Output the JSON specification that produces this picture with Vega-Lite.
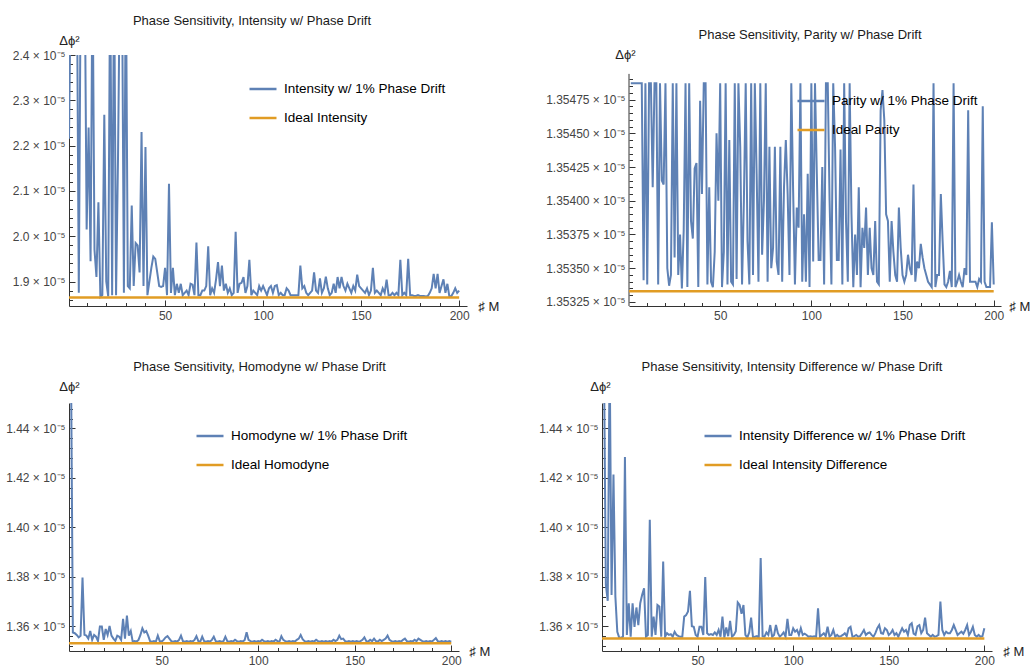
{
"$schema":"https://vega.github.io/schema/vega-lite/v6.json",
"padding":{"left":5,"top":15,"right":0,"bottom":0},
"background":"white",
"config":{"view":{"stroke":null},"font":"Liberation Sans",
 "title":{"font":"Liberation Sans","fontSize":13,"fontWeight":"normal","color":"#1a1a1a","anchor":"middle","frame":"group","offset":6},
 "axis":{"grid":false,"domainColor":"#333","tickColor":"#333","labelColor":"#444","labelFont":"Liberation Sans","labelFontSize":12,"titleFont":"Liberation Sans","titleFontWeight":"normal","titleColor":"#222","titleFontSize":13,"labelOverlap":false,"labelFlush":false,"labelPadding":10},
 "legend":{"labelFont":"Liberation Sans","labelFontSize":13.5,"labelColor":"#000","labelLimit":400,"symbolType":"stroke","symbolSize":729,"symbolStrokeWidth":2.5,"labelOffset":6,"rowPadding":7,"orient":"none","title":null}
},
"datasets":{
"p1":[{"M":1,"v":2.215},{"M":2,"v":2.6},{"M":3,"v":2.6},{"M":4,"v":2.6},{"M":5,"v":2.6},{"M":6,"v":1.875},{"M":7,"v":2.6},{"M":8,"v":2.6},{"M":9,"v":2.6},{"M":10,"v":2.015},{"M":11,"v":2.24},{"M":12,"v":1.945},{"M":13,"v":2.6},{"M":14,"v":1.97},{"M":15,"v":1.91},{"M":16,"v":2.075},{"M":17,"v":1.866},{"M":18,"v":1.87},{"M":19,"v":2.268},{"M":20,"v":1.9},{"M":21,"v":1.867},{"M":22,"v":2.6},{"M":23,"v":1.87},{"M":24,"v":2.6},{"M":25,"v":1.87},{"M":26,"v":2.173},{"M":27,"v":2.6},{"M":28,"v":2.6},{"M":29,"v":1.875},{"M":30,"v":2.6},{"M":31,"v":1.89},{"M":32,"v":1.885},{"M":33,"v":2.068},{"M":34,"v":1.89},{"M":35,"v":1.985},{"M":36,"v":1.98},{"M":37,"v":1.92},{"M":38,"v":2.23},{"M":39,"v":1.89},{"M":40,"v":2.197},{"M":41,"v":1.87},{"M":42,"v":1.9},{"M":43,"v":1.93},{"M":44,"v":1.955},{"M":45,"v":1.95},{"M":46,"v":1.92},{"M":47,"v":1.89},{"M":48,"v":1.888},{"M":49,"v":1.89},{"M":50,"v":1.93},{"M":51,"v":1.87},{"M":52,"v":2.116},{"M":53,"v":1.875},{"M":54,"v":1.93},{"M":55,"v":1.87},{"M":56,"v":1.895},{"M":57,"v":1.875},{"M":58,"v":1.895},{"M":59,"v":1.87},{"M":60,"v":1.875},{"M":61,"v":1.88},{"M":62,"v":1.87},{"M":63,"v":1.895},{"M":64,"v":1.893},{"M":65,"v":1.87},{"M":66,"v":1.986},{"M":67,"v":1.87},{"M":68,"v":1.87},{"M":69,"v":1.88},{"M":70,"v":1.88},{"M":71,"v":1.89},{"M":72,"v":1.978},{"M":73,"v":1.87},{"M":74,"v":1.885},{"M":75,"v":1.875},{"M":76,"v":1.905},{"M":77,"v":1.943},{"M":78,"v":1.89},{"M":79,"v":1.935},{"M":80,"v":1.88},{"M":81,"v":1.895},{"M":82,"v":1.875},{"M":83,"v":1.885},{"M":84,"v":1.87},{"M":85,"v":1.875},{"M":86,"v":2.01},{"M":87,"v":1.875},{"M":88,"v":1.895},{"M":89,"v":1.897},{"M":90,"v":1.91},{"M":91,"v":1.875},{"M":92,"v":1.89},{"M":93,"v":1.948},{"M":94,"v":1.87},{"M":95,"v":1.88},{"M":96,"v":1.875},{"M":97,"v":1.87},{"M":98,"v":1.89},{"M":99,"v":1.88},{"M":100,"v":1.89},{"M":101,"v":1.88},{"M":102,"v":1.87},{"M":103,"v":1.885},{"M":104,"v":1.89},{"M":105,"v":1.875},{"M":106,"v":1.89},{"M":107,"v":1.892},{"M":108,"v":1.87},{"M":109,"v":1.875},{"M":110,"v":1.87},{"M":111,"v":1.87},{"M":112,"v":1.885},{"M":113,"v":1.88},{"M":114,"v":1.87},{"M":115,"v":1.87},{"M":116,"v":1.87},{"M":117,"v":1.87},{"M":118,"v":1.87},{"M":119,"v":1.935},{"M":120,"v":1.885},{"M":121,"v":1.89},{"M":122,"v":1.875},{"M":123,"v":1.87},{"M":124,"v":1.875},{"M":125,"v":1.88},{"M":126,"v":1.92},{"M":127,"v":1.88},{"M":128,"v":1.875},{"M":129,"v":1.907},{"M":130,"v":1.875},{"M":131,"v":1.885},{"M":132,"v":1.911},{"M":133,"v":1.885},{"M":134,"v":1.87},{"M":135,"v":1.875},{"M":136,"v":1.895},{"M":137,"v":1.875},{"M":138,"v":1.91},{"M":139,"v":1.885},{"M":140,"v":1.91},{"M":141,"v":1.89},{"M":142,"v":1.88},{"M":143,"v":1.895},{"M":144,"v":1.885},{"M":145,"v":1.875},{"M":146,"v":1.89},{"M":147,"v":1.88},{"M":148,"v":1.915},{"M":149,"v":1.89},{"M":150,"v":1.885},{"M":151,"v":1.88},{"M":152,"v":1.875},{"M":153,"v":1.885},{"M":154,"v":1.87},{"M":155,"v":1.88},{"M":156,"v":1.93},{"M":157,"v":1.875},{"M":158,"v":1.88},{"M":159,"v":1.875},{"M":160,"v":1.87},{"M":161,"v":1.885},{"M":162,"v":1.875},{"M":163,"v":1.904},{"M":164,"v":1.87},{"M":165,"v":1.87},{"M":166,"v":1.875},{"M":167,"v":1.87},{"M":168,"v":1.875},{"M":169,"v":1.87},{"M":170,"v":1.948},{"M":171,"v":1.87},{"M":172,"v":1.875},{"M":173,"v":1.87},{"M":174,"v":1.95},{"M":175,"v":1.87},{"M":176,"v":1.87},{"M":177,"v":1.868},{"M":178,"v":1.868},{"M":179,"v":1.87},{"M":180,"v":1.868},{"M":181,"v":1.868},{"M":182,"v":1.868},{"M":183,"v":1.867},{"M":184,"v":1.868},{"M":185,"v":1.875},{"M":186,"v":1.885},{"M":187,"v":1.917},{"M":188,"v":1.885},{"M":189,"v":1.917},{"M":190,"v":1.875},{"M":191,"v":1.89},{"M":192,"v":1.905},{"M":193,"v":1.875},{"M":194,"v":1.895},{"M":195,"v":1.867},{"M":196,"v":1.868},{"M":197,"v":1.875},{"M":198,"v":1.885},{"M":199,"v":1.875},{"M":200,"v":1.88}],
"p2":[{"M":1,"v":1.35487},{"M":2,"v":1.35487},{"M":3,"v":1.35487},{"M":4,"v":1.35487},{"M":5,"v":1.35487},{"M":6,"v":1.35487},{"M":7,"v":1.35487},{"M":8,"v":1.35341},{"M":9,"v":1.35487},{"M":10,"v":1.35338},{"M":11,"v":1.35487},{"M":12,"v":1.35487},{"M":13,"v":1.3541},{"M":14,"v":1.35487},{"M":15,"v":1.35487},{"M":16,"v":1.35338},{"M":17,"v":1.35487},{"M":18,"v":1.35415},{"M":19,"v":1.35412},{"M":20,"v":1.35487},{"M":21,"v":1.3535},{"M":22,"v":1.35337},{"M":23,"v":1.35345},{"M":24,"v":1.35487},{"M":25,"v":1.35358},{"M":26,"v":1.35487},{"M":27,"v":1.35345},{"M":28,"v":1.35375},{"M":29,"v":1.35335},{"M":30,"v":1.35378},{"M":31,"v":1.35487},{"M":32,"v":1.35336},{"M":33,"v":1.35487},{"M":34,"v":1.35385},{"M":35,"v":1.35372},{"M":36,"v":1.35424},{"M":37,"v":1.35428},{"M":38,"v":1.35336},{"M":39,"v":1.35474},{"M":40,"v":1.35405},{"M":41,"v":1.35487},{"M":42,"v":1.35487},{"M":43,"v":1.35338},{"M":44,"v":1.3541},{"M":45,"v":1.3534},{"M":46,"v":1.35336},{"M":47,"v":1.35362},{"M":48,"v":1.3545},{"M":49,"v":1.354},{"M":50,"v":1.35487},{"M":51,"v":1.35336},{"M":52,"v":1.35362},{"M":53,"v":1.35487},{"M":54,"v":1.35338},{"M":55,"v":1.35445},{"M":56,"v":1.3534},{"M":57,"v":1.35338},{"M":58,"v":1.35487},{"M":59,"v":1.35342},{"M":60,"v":1.35487},{"M":61,"v":1.3544},{"M":62,"v":1.35338},{"M":63,"v":1.354},{"M":64,"v":1.35487},{"M":65,"v":1.3537},{"M":66,"v":1.35338},{"M":67,"v":1.35487},{"M":68,"v":1.35345},{"M":69,"v":1.35487},{"M":70,"v":1.3542},{"M":71,"v":1.3534},{"M":72,"v":1.35487},{"M":73,"v":1.3536},{"M":74,"v":1.354},{"M":75,"v":1.35487},{"M":76,"v":1.3534},{"M":77,"v":1.3544},{"M":78,"v":1.3535},{"M":79,"v":1.35365},{"M":80,"v":1.3544},{"M":81,"v":1.35355},{"M":82,"v":1.35345},{"M":83,"v":1.3544},{"M":84,"v":1.3534},{"M":85,"v":1.3541},{"M":86,"v":1.35445},{"M":87,"v":1.35405},{"M":88,"v":1.35345},{"M":89,"v":1.35487},{"M":90,"v":1.35408},{"M":91,"v":1.35338},{"M":92,"v":1.35395},{"M":93,"v":1.3538},{"M":94,"v":1.35487},{"M":95,"v":1.3534},{"M":96,"v":1.3539},{"M":97,"v":1.3534},{"M":98,"v":1.3542},{"M":99,"v":1.35336},{"M":100,"v":1.35487},{"M":101,"v":1.35355},{"M":102,"v":1.35487},{"M":103,"v":1.3542},{"M":104,"v":1.35356},{"M":105,"v":1.35356},{"M":106,"v":1.35425},{"M":107,"v":1.35338},{"M":108,"v":1.35487},{"M":109,"v":1.35487},{"M":110,"v":1.354},{"M":111,"v":1.35338},{"M":112,"v":1.35487},{"M":113,"v":1.3544},{"M":114,"v":1.35356},{"M":115,"v":1.35356},{"M":116,"v":1.35438},{"M":117,"v":1.35338},{"M":118,"v":1.35487},{"M":119,"v":1.35385},{"M":120,"v":1.3534},{"M":121,"v":1.35487},{"M":122,"v":1.3539},{"M":123,"v":1.35336},{"M":124,"v":1.35375},{"M":125,"v":1.35345},{"M":126,"v":1.3541},{"M":127,"v":1.35336},{"M":128,"v":1.3538},{"M":129,"v":1.35365},{"M":130,"v":1.35395},{"M":131,"v":1.35345},{"M":132,"v":1.3538},{"M":133,"v":1.3535},{"M":134,"v":1.35345},{"M":135,"v":1.35385},{"M":136,"v":1.3534},{"M":137,"v":1.35338},{"M":138,"v":1.35467},{"M":139,"v":1.35482},{"M":140,"v":1.3546},{"M":141,"v":1.3539},{"M":142,"v":1.35385},{"M":143,"v":1.3534},{"M":144,"v":1.35385},{"M":145,"v":1.35362},{"M":146,"v":1.35345},{"M":147,"v":1.3534},{"M":148,"v":1.35395},{"M":149,"v":1.35365},{"M":150,"v":1.35345},{"M":151,"v":1.3534},{"M":152,"v":1.35345},{"M":153,"v":1.3536},{"M":154,"v":1.3535},{"M":155,"v":1.35345},{"M":156,"v":1.35412},{"M":157,"v":1.3534},{"M":158,"v":1.35355},{"M":159,"v":1.3535},{"M":160,"v":1.35368},{"M":161,"v":1.35358},{"M":162,"v":1.3535},{"M":163,"v":1.35345},{"M":164,"v":1.3534},{"M":165,"v":1.35338},{"M":166,"v":1.35336},{"M":167,"v":1.35487},{"M":168,"v":1.35336},{"M":169,"v":1.35345},{"M":170,"v":1.35345},{"M":171,"v":1.35405},{"M":172,"v":1.3537},{"M":173,"v":1.35338},{"M":174,"v":1.35336},{"M":175,"v":1.3534},{"M":176,"v":1.35348},{"M":177,"v":1.35336},{"M":178,"v":1.35487},{"M":179,"v":1.35336},{"M":180,"v":1.3534},{"M":181,"v":1.35345},{"M":182,"v":1.3534},{"M":183,"v":1.35336},{"M":184,"v":1.3535},{"M":185,"v":1.35345},{"M":186,"v":1.35467},{"M":187,"v":1.3534},{"M":188,"v":1.3534},{"M":189,"v":1.3534},{"M":190,"v":1.3534},{"M":191,"v":1.35336},{"M":192,"v":1.35342},{"M":193,"v":1.3534},{"M":194,"v":1.3547},{"M":195,"v":1.3534},{"M":196,"v":1.35336},{"M":197,"v":1.35336},{"M":198,"v":1.35336},{"M":199,"v":1.35384},{"M":200,"v":1.35338}],
"p3":[{"M":2,"v":1.47},{"M":3,"v":1.47},{"M":4,"v":1.3575},{"M":5,"v":1.3572},{"M":6,"v":1.3565},{"M":7,"v":1.3555},{"M":8,"v":1.3562},{"M":9,"v":1.3797},{"M":10,"v":1.3565},{"M":11,"v":1.3562},{"M":12,"v":1.355},{"M":13,"v":1.3581},{"M":14,"v":1.3545},{"M":15,"v":1.3565},{"M":16,"v":1.3558},{"M":17,"v":1.354},{"M":18,"v":1.3599},{"M":19,"v":1.3599},{"M":20,"v":1.3545},{"M":21,"v":1.3589},{"M":22,"v":1.3565},{"M":23,"v":1.3601},{"M":24,"v":1.3562},{"M":25,"v":1.355},{"M":26,"v":1.3541},{"M":27,"v":1.3562},{"M":28,"v":1.3558},{"M":29,"v":1.3545},{"M":30,"v":1.363},{"M":31,"v":1.355},{"M":32,"v":1.3643},{"M":33,"v":1.3562},{"M":34,"v":1.3581},{"M":35,"v":1.3538},{"M":36,"v":1.354},{"M":37,"v":1.3538},{"M":38,"v":1.3545},{"M":39,"v":1.3565},{"M":40,"v":1.3592},{"M":41,"v":1.3575},{"M":42,"v":1.3581},{"M":43,"v":1.3562},{"M":44,"v":1.354},{"M":45,"v":1.3538},{"M":46,"v":1.354},{"M":47,"v":1.3538},{"M":48,"v":1.3562},{"M":49,"v":1.354},{"M":50,"v":1.3538},{"M":51,"v":1.3545},{"M":52,"v":1.3555},{"M":53,"v":1.356},{"M":54,"v":1.355},{"M":55,"v":1.354},{"M":56,"v":1.3538},{"M":57,"v":1.354},{"M":58,"v":1.3538},{"M":59,"v":1.3545},{"M":60,"v":1.3562},{"M":61,"v":1.354},{"M":62,"v":1.3538},{"M":63,"v":1.354},{"M":64,"v":1.3538},{"M":65,"v":1.354},{"M":66,"v":1.3538},{"M":67,"v":1.3545},{"M":68,"v":1.356},{"M":69,"v":1.354},{"M":70,"v":1.3538},{"M":71,"v":1.3558},{"M":72,"v":1.354},{"M":73,"v":1.3538},{"M":74,"v":1.354},{"M":75,"v":1.3538},{"M":76,"v":1.3545},{"M":77,"v":1.3558},{"M":78,"v":1.354},{"M":79,"v":1.3538},{"M":80,"v":1.354},{"M":81,"v":1.3538},{"M":82,"v":1.354},{"M":83,"v":1.3558},{"M":84,"v":1.354},{"M":85,"v":1.3538},{"M":86,"v":1.354},{"M":87,"v":1.3538},{"M":88,"v":1.3545},{"M":89,"v":1.354},{"M":90,"v":1.3538},{"M":91,"v":1.354},{"M":92,"v":1.3538},{"M":93,"v":1.3545},{"M":94,"v":1.3576},{"M":95,"v":1.3545},{"M":96,"v":1.354},{"M":97,"v":1.3538},{"M":98,"v":1.354},{"M":99,"v":1.3538},{"M":100,"v":1.354},{"M":101,"v":1.3538},{"M":102,"v":1.3545},{"M":103,"v":1.354},{"M":104,"v":1.3538},{"M":105,"v":1.354},{"M":106,"v":1.3538},{"M":107,"v":1.354},{"M":108,"v":1.3538},{"M":109,"v":1.3545},{"M":110,"v":1.354},{"M":111,"v":1.3538},{"M":112,"v":1.356},{"M":113,"v":1.3545},{"M":114,"v":1.354},{"M":115,"v":1.3538},{"M":116,"v":1.354},{"M":117,"v":1.3538},{"M":118,"v":1.354},{"M":119,"v":1.3538},{"M":120,"v":1.3545},{"M":121,"v":1.355},{"M":122,"v":1.3565},{"M":123,"v":1.3548},{"M":124,"v":1.354},{"M":125,"v":1.3538},{"M":126,"v":1.354},{"M":127,"v":1.3538},{"M":128,"v":1.354},{"M":129,"v":1.3538},{"M":130,"v":1.3545},{"M":131,"v":1.354},{"M":132,"v":1.3538},{"M":133,"v":1.354},{"M":134,"v":1.3538},{"M":135,"v":1.354},{"M":136,"v":1.3538},{"M":137,"v":1.354},{"M":138,"v":1.3538},{"M":139,"v":1.3545},{"M":140,"v":1.354},{"M":141,"v":1.3545},{"M":142,"v":1.3562},{"M":143,"v":1.3548},{"M":144,"v":1.355},{"M":145,"v":1.354},{"M":146,"v":1.3538},{"M":147,"v":1.354},{"M":148,"v":1.3538},{"M":149,"v":1.354},{"M":150,"v":1.3538},{"M":151,"v":1.354},{"M":152,"v":1.3538},{"M":153,"v":1.354},{"M":154,"v":1.3545},{"M":155,"v":1.3555},{"M":156,"v":1.354},{"M":157,"v":1.3538},{"M":158,"v":1.3545},{"M":159,"v":1.354},{"M":160,"v":1.355},{"M":161,"v":1.354},{"M":162,"v":1.3538},{"M":163,"v":1.3545},{"M":164,"v":1.354},{"M":165,"v":1.3545},{"M":166,"v":1.355},{"M":167,"v":1.3562},{"M":168,"v":1.3545},{"M":169,"v":1.354},{"M":170,"v":1.3538},{"M":171,"v":1.354},{"M":172,"v":1.3538},{"M":173,"v":1.354},{"M":174,"v":1.3538},{"M":175,"v":1.3545},{"M":176,"v":1.355},{"M":177,"v":1.354},{"M":178,"v":1.3538},{"M":179,"v":1.354},{"M":180,"v":1.3538},{"M":181,"v":1.3545},{"M":182,"v":1.354},{"M":183,"v":1.355},{"M":184,"v":1.3545},{"M":185,"v":1.354},{"M":186,"v":1.3538},{"M":187,"v":1.354},{"M":188,"v":1.3538},{"M":189,"v":1.354},{"M":190,"v":1.3538},{"M":191,"v":1.3545},{"M":192,"v":1.3552},{"M":193,"v":1.354},{"M":194,"v":1.3538},{"M":195,"v":1.354},{"M":196,"v":1.3538},{"M":197,"v":1.354},{"M":198,"v":1.3538},{"M":199,"v":1.354},{"M":200,"v":1.3538}],
"p4":[{"M":1,"v":1.47},{"M":2,"v":1.3768},{"M":3,"v":1.3703},{"M":4,"v":1.47},{"M":5,"v":1.3727},{"M":6,"v":1.4214},{"M":7,"v":1.372},{"M":8,"v":1.3578},{"M":9,"v":1.3554},{"M":10,"v":1.3554},{"M":11,"v":1.3558},{"M":12,"v":1.4285},{"M":13,"v":1.3565},{"M":14,"v":1.3693},{"M":15,"v":1.3558},{"M":16,"v":1.3693},{"M":17,"v":1.3597},{"M":18,"v":1.3676},{"M":19,"v":1.3605},{"M":20,"v":1.3693},{"M":21,"v":1.3727},{"M":22,"v":1.3754},{"M":23,"v":1.3558},{"M":24,"v":1.3565},{"M":25,"v":1.4031},{"M":26,"v":1.3558},{"M":27,"v":1.3639},{"M":28,"v":1.3565},{"M":29,"v":1.3686},{"M":30,"v":1.368},{"M":31,"v":1.3558},{"M":32,"v":1.3862},{"M":33,"v":1.3558},{"M":34,"v":1.3572},{"M":35,"v":1.3565},{"M":36,"v":1.3568},{"M":37,"v":1.3558},{"M":38,"v":1.3578},{"M":39,"v":1.3565},{"M":40,"v":1.356},{"M":41,"v":1.3558},{"M":42,"v":1.3558},{"M":43,"v":1.3639},{"M":44,"v":1.3645},{"M":45,"v":1.366},{"M":46,"v":1.3743},{"M":47,"v":1.36},{"M":48,"v":1.3598},{"M":49,"v":1.3565},{"M":50,"v":1.3558},{"M":51,"v":1.3598},{"M":52,"v":1.3598},{"M":53,"v":1.3565},{"M":54,"v":1.3799},{"M":55,"v":1.3572},{"M":56,"v":1.3565},{"M":57,"v":1.3568},{"M":58,"v":1.3565},{"M":59,"v":1.3575},{"M":60,"v":1.3565},{"M":61,"v":1.3585},{"M":62,"v":1.3558},{"M":63,"v":1.3639},{"M":64,"v":1.3554},{"M":65,"v":1.3595},{"M":66,"v":1.356},{"M":67,"v":1.3622},{"M":68,"v":1.3558},{"M":69,"v":1.3565},{"M":70,"v":1.358},{"M":71,"v":1.3696},{"M":72,"v":1.3686},{"M":73,"v":1.365},{"M":74,"v":1.3686},{"M":75,"v":1.3565},{"M":76,"v":1.3554},{"M":77,"v":1.3575},{"M":78,"v":1.3635},{"M":79,"v":1.3554},{"M":80,"v":1.3558},{"M":81,"v":1.356},{"M":82,"v":1.3554},{"M":83,"v":1.3876},{"M":84,"v":1.356},{"M":85,"v":1.3558},{"M":86,"v":1.3575},{"M":87,"v":1.3565},{"M":88,"v":1.3605},{"M":89,"v":1.3558},{"M":90,"v":1.3565},{"M":91,"v":1.3605},{"M":92,"v":1.3572},{"M":93,"v":1.3558},{"M":94,"v":1.3565},{"M":95,"v":1.3575},{"M":96,"v":1.3558},{"M":97,"v":1.363},{"M":98,"v":1.3565},{"M":99,"v":1.3565},{"M":100,"v":1.3592},{"M":101,"v":1.3578},{"M":102,"v":1.3585},{"M":103,"v":1.3565},{"M":104,"v":1.3592},{"M":105,"v":1.3565},{"M":106,"v":1.357},{"M":107,"v":1.3565},{"M":108,"v":1.3558},{"M":109,"v":1.356},{"M":110,"v":1.3558},{"M":111,"v":1.356},{"M":112,"v":1.3558},{"M":113,"v":1.3673},{"M":114,"v":1.3558},{"M":115,"v":1.3565},{"M":116,"v":1.3572},{"M":117,"v":1.356},{"M":118,"v":1.3598},{"M":119,"v":1.3558},{"M":120,"v":1.3565},{"M":121,"v":1.3585},{"M":122,"v":1.3558},{"M":123,"v":1.3565},{"M":124,"v":1.3558},{"M":125,"v":1.356},{"M":126,"v":1.3565},{"M":127,"v":1.3572},{"M":128,"v":1.356},{"M":129,"v":1.3592},{"M":130,"v":1.3598},{"M":131,"v":1.3558},{"M":132,"v":1.356},{"M":133,"v":1.3565},{"M":134,"v":1.3558},{"M":135,"v":1.356},{"M":136,"v":1.3572},{"M":137,"v":1.3585},{"M":138,"v":1.3565},{"M":139,"v":1.3572},{"M":140,"v":1.3575},{"M":141,"v":1.3565},{"M":142,"v":1.3558},{"M":143,"v":1.3572},{"M":144,"v":1.3592},{"M":145,"v":1.3605},{"M":146,"v":1.3572},{"M":147,"v":1.357},{"M":148,"v":1.3592},{"M":149,"v":1.3585},{"M":150,"v":1.3565},{"M":151,"v":1.3572},{"M":152,"v":1.3585},{"M":153,"v":1.3565},{"M":154,"v":1.3572},{"M":155,"v":1.3558},{"M":156,"v":1.3575},{"M":157,"v":1.3592},{"M":158,"v":1.3578},{"M":159,"v":1.3585},{"M":160,"v":1.3565},{"M":161,"v":1.3605},{"M":162,"v":1.3612},{"M":163,"v":1.357},{"M":164,"v":1.3565},{"M":165,"v":1.36},{"M":166,"v":1.3605},{"M":167,"v":1.3572},{"M":168,"v":1.3585},{"M":169,"v":1.3635},{"M":170,"v":1.3572},{"M":171,"v":1.3565},{"M":172,"v":1.3558},{"M":173,"v":1.3565},{"M":174,"v":1.3558},{"M":175,"v":1.356},{"M":176,"v":1.3565},{"M":177,"v":1.37},{"M":178,"v":1.3585},{"M":179,"v":1.3565},{"M":180,"v":1.3578},{"M":181,"v":1.3572},{"M":182,"v":1.3572},{"M":183,"v":1.3585},{"M":184,"v":1.3605},{"M":185,"v":1.3585},{"M":186,"v":1.3565},{"M":187,"v":1.3572},{"M":188,"v":1.3578},{"M":189,"v":1.357},{"M":190,"v":1.3585},{"M":191,"v":1.3605},{"M":192,"v":1.3565},{"M":193,"v":1.3578},{"M":194,"v":1.3598},{"M":195,"v":1.3565},{"M":196,"v":1.3558},{"M":197,"v":1.3565},{"M":198,"v":1.3558},{"M":199,"v":1.356},{"M":200,"v":1.3592}]
},
"spacing":37,
"bounds":"full",
"resolve":{"scale":{"x":"independent","y":"independent","color":"independent"},"legend":{"color":"independent"},"axis":{"x":"independent","y":"independent"}},
"vconcat":[
{"spacing":162,"bounds":"flush",
 "resolve":{"scale":{"x":"independent","y":"independent","color":"independent"},"legend":{"color":"independent"},"axis":{"x":"independent","y":"independent"}},
 "hconcat":[
 {"width":398,"height":251,
  "title":{"text":"Phase Sensitivity, Intensity w/ Phase Drift","dx":-16},
  "encoding":{
   "x":{"field":"M","type":"quantitative","scale":{"domain":[1,204],"nice":false,"zero":false},
    "axis":{"values":[10,20,30,40,50,60,70,80,90,100,110,120,130,140,150,160,170,180,190,200],"labelExpr":"datum.value % 50 == 0 ? datum.label : ''","tickSize":{"condition":{"test":"datum.value % 50 == 0","value":-6},"value":-3.5},"title":"♯ M","titleAngle":0,"titleX":409,"titleY":0,"titleAlign":"left","titleBaseline":"middle"}},
   "y":{"field":"v","type":"quantitative","scale":{"domain":[1.846,2.4],"nice":false,"zero":false},
    "axis":{"values":[1.86,1.88,1.9,1.92,1.94,1.96,1.98,2.0,2.02,2.04,2.06,2.08,2.1,2.12,2.14,2.16,2.18,2.2,2.22,2.24,2.26,2.28,2.3,2.32,2.34,2.36,2.38,2.4],"labelExpr":"round(datum.value*100) % 10 == 0 ? format(datum.value, '.1f') + ' × 10⁻⁵' : ''","tickSize":{"condition":{"test":"round(datum.value*100) % 10 == 0","value":-6},"value":-3.5},"title":"Δϕ²","titleAngle":0,"titleX":0,"titleY":-11,"titleAlign":"center","titleBaseline":"alphabetic"}}
  },
  "layer":[
   {"data":{"name":"p1"},"mark":{"type":"line","clip":true,"strokeWidth":2},
    "encoding":{"color":{"datum":"Intensity w/ 1% Phase Drift","type":"nominal","scale":{"domain":["Intensity w/ 1% Phase Drift","Ideal Intensity"],"range":["#5E81B5","#E19C24"]},"legend":{"legendX":179,"legendY":19}}}},
   {"data":{"values":[{"M":1,"v":1.8645},{"M":200,"v":1.8645}]},"mark":{"type":"line","strokeWidth":2.5},
    "encoding":{"color":{"datum":"Ideal Intensity","type":"nominal"}}}
  ]},
 {"width":372,"height":251,
  "title":{"text":"Phase Sensitivity, Parity w/ Phase Drift","dx":-5},
  "encoding":{
   "x":{"field":"M","type":"quantitative","scale":{"domain":[0,204],"nice":false,"zero":false},
    "axis":{"values":[10,20,30,40,50,60,70,80,90,100,110,120,130,140,150,160,170,180,190,200],"labelExpr":"datum.value % 50 == 0 ? datum.label : ''","tickSize":{"condition":{"test":"datum.value % 50 == 0","value":-6},"value":-3.5},"title":"♯ M","titleAngle":0,"titleX":380,"titleY":0,"titleAlign":"left","titleBaseline":"middle"}},
   "y":{"field":"v","type":"quantitative","scale":{"domain":[1.35322,1.35508],"nice":false,"zero":false},
    "axis":{"domain":false,"values":[1.35325,1.3533,1.35335,1.3534,1.35345,1.3535,1.35355,1.3536,1.35365,1.3537,1.35375,1.3538,1.35385,1.3539,1.35395,1.354,1.35405,1.3541,1.35415,1.3542,1.35425,1.3543,1.35435,1.3544,1.35445,1.3545,1.35455,1.3546,1.35465,1.3547,1.35475,1.3548,1.35485,1.3549],"labelExpr":"round(datum.value*100000) % 25 == 0 ? format(datum.value, '.5f') + ' × 10⁻⁵' : ''","tickSize":{"condition":{"test":"round(datum.value*100000) % 25 == 0","value":-6},"value":-3.5},"title":"Δϕ²","titleAngle":0,"titleX":-4,"titleY":3,"titleAlign":"center","titleBaseline":"alphabetic"}}
  },
  "layer":[
   {"data":{"values":[{"M":0,"lo":1.35322,"hi":1.35494}]},"mark":{"type":"rule","color":"#333","strokeWidth":1},
    "encoding":{"y":{"field":"lo","type":"quantitative"},"y2":{"field":"hi"}}},
   {"data":{"name":"p2"},"mark":{"type":"line","clip":true,"strokeWidth":2},
    "encoding":{"color":{"datum":"Parity w/ 1% Phase Drift","type":"nominal","scale":{"domain":["Parity w/ 1% Phase Drift","Ideal Parity"],"range":["#5E81B5","#E19C24"]},"legend":{"legendX":167,"legendY":31}}}},
   {"data":{"values":[{"M":0,"v":1.35333},{"M":200,"v":1.35333}]},"mark":{"type":"line","strokeWidth":2.5},
    "encoding":{"color":{"datum":"Ideal Parity","type":"nominal"}}}
  ]}
 ]},
{"spacing":143,"bounds":"flush",
 "resolve":{"scale":{"x":"independent","y":"independent","color":"independent"},"legend":{"color":"independent"},"axis":{"x":"independent","y":"independent"}},
 "hconcat":[
 {"width":390,"height":248,
  "title":{"text":"Phase Sensitivity, Homodyne w/ Phase Drift","dx":-4.5},
  "encoding":{
   "x":{"field":"M","type":"quantitative","scale":{"domain":[2,204],"nice":false,"zero":false},
    "axis":{"values":[10,20,30,40,50,60,70,80,90,100,110,120,130,140,150,160,170,180,190,200],"labelExpr":"datum.value % 50 == 0 ? datum.label : ''","tickSize":{"condition":{"test":"datum.value % 50 == 0","value":-6},"value":-3.5},"title":"♯ M","titleAngle":0,"titleX":400,"titleY":0,"titleAlign":"left","titleBaseline":"middle"}},
   "y":{"field":"v","type":"quantitative","scale":{"domain":[1.35,1.4503],"nice":false,"zero":false},
    "axis":{"values":[1.352,1.356,1.36,1.364,1.368,1.372,1.376,1.38,1.384,1.388,1.392,1.396,1.4,1.404,1.408,1.412,1.416,1.42,1.424,1.428,1.432,1.436,1.44,1.444,1.448],"labelExpr":"round(datum.value*1000) % 20 == 0 ? format(datum.value, '.2f') + ' × 10⁻⁵' : ''","tickSize":{"condition":{"test":"round(datum.value*1000) % 20 == 0","value":-6},"value":-3.5},"title":"Δϕ²","titleAngle":0,"titleX":0,"titleY":-13,"titleAlign":"center","titleBaseline":"alphabetic"}}
  },
  "layer":[
   {"data":{"name":"p3"},"mark":{"type":"line","clip":true,"strokeWidth":2},
    "encoding":{"color":{"datum":"Homodyne w/ 1% Phase Drift","type":"nominal","scale":{"domain":["Homodyne w/ 1% Phase Drift","Ideal Homodyne"],"range":["#5E81B5","#E19C24"]},"legend":{"legendX":126,"legendY":18}}}},
   {"data":{"values":[{"M":2,"v":1.3531},{"M":200,"v":1.3531}]},"mark":{"type":"line","strokeWidth":2.5},
    "encoding":{"color":{"datum":"Ideal Homodyne","type":"nominal"}}}
  ]},
 {"width":390,"height":248,
  "title":{"text":"Phase Sensitivity, Intensity Difference w/ Phase Drift","dx":-5},
  "encoding":{
   "x":{"field":"M","type":"quantitative","scale":{"domain":[0,204],"nice":false,"zero":false},
    "axis":{"values":[10,20,30,40,50,60,70,80,90,100,110,120,130,140,150,160,170,180,190,200],"labelExpr":"datum.value % 50 == 0 ? datum.label : ''","tickSize":{"condition":{"test":"datum.value % 50 == 0","value":-6},"value":-3.5},"title":"♯ M","titleAngle":0,"titleX":401,"titleY":0,"titleAlign":"left","titleBaseline":"middle"}},
   "y":{"field":"v","type":"quantitative","scale":{"domain":[1.35,1.4503],"nice":false,"zero":false},
    "axis":{"values":[1.352,1.356,1.36,1.364,1.368,1.372,1.376,1.38,1.384,1.388,1.392,1.396,1.4,1.404,1.408,1.412,1.416,1.42,1.424,1.428,1.432,1.436,1.44,1.444,1.448],"labelExpr":"round(datum.value*1000) % 20 == 0 ? format(datum.value, '.2f') + ' × 10⁻⁵' : ''","tickSize":{"condition":{"test":"round(datum.value*1000) % 20 == 0","value":-6},"value":-3.5},"title":"Δϕ²","titleAngle":0,"titleX":-2,"titleY":-13,"titleAlign":"center","titleBaseline":"alphabetic"}}
  },
  "layer":[
   {"data":{"name":"p4"},"mark":{"type":"line","clip":true,"strokeWidth":2},
    "encoding":{"color":{"datum":"Intensity Difference w/ 1% Phase Drift","type":"nominal","scale":{"domain":["Intensity Difference w/ 1% Phase Drift","Ideal Intensity Difference"],"range":["#5E81B5","#E19C24"]},"legend":{"legendX":101,"legendY":18}}}},
   {"data":{"values":[{"M":0,"v":1.3551},{"M":200,"v":1.3551}]},"mark":{"type":"line","strokeWidth":2.5},
    "encoding":{"color":{"datum":"Ideal Intensity Difference","type":"nominal"}}}
  ]}
 ]}
]
}
